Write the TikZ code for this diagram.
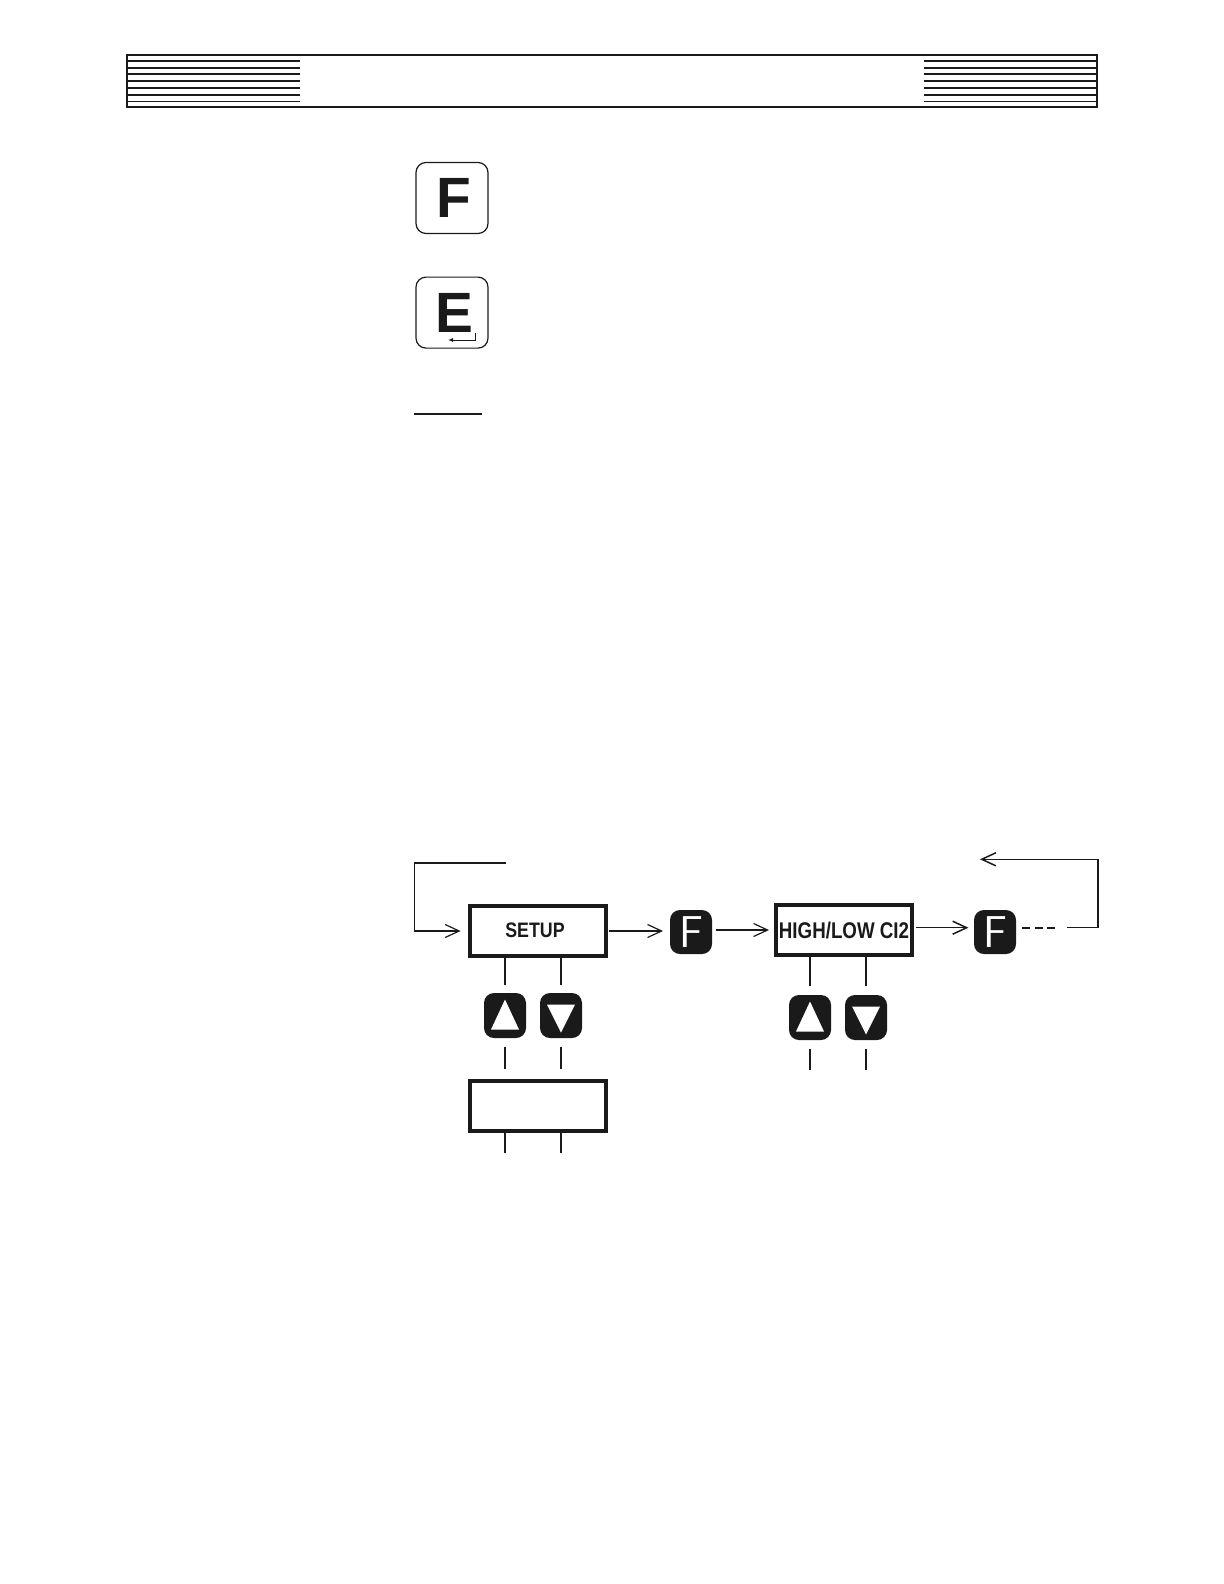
\documentclass[tikz,border=0pt]{standalone}
\usepackage{fontspec}
\setmainfont{Liberation Sans}
\usepackage{xcolor}
\usetikzlibrary{positioning,arrows.meta}
\definecolor{ink}{HTML}{1A1A1A}
\tikzset{
  capkey/.style={draw=ink,line width=.6bp,rounded corners=5bp,minimum width=36bp,minimum height=35.5bp,inner sep=0pt,outer sep=0pt,text=ink,font=\bfseries\fontsize{28.5}{30}\selectfont},
  blackkey/.style={fill=ink,rounded corners=5bp,minimum width=21bp,minimum height=22bp,inner sep=0pt,outer sep=0pt,text=white,font=\sffamily\fontsize{22.4}{24}\selectfont},
  arrowkey/.style={fill=ink,rounded corners=5bp,minimum width=21bp,minimum height=22.5bp,inner sep=0pt,outer sep=0pt},
  dispbox/.style={draw=ink,line width=2.2bp,minimum width=68bp,minimum height=25bp,inner sep=0pt,outer sep=0pt,text=ink},
  flow/.style={draw=ink,line width=.6bp,-{Straight Barb[length=7bp,width=6.5bp]}},
  stubthick/.style={draw=ink,line width=1bp},
  stubthin/.style={draw=ink,line width=.55bp},
  rule/.style={draw=ink,line width=.8bp}
}
\begin{document}
\begin{tikzpicture}[x=.5bp,y=-.5bp]
\useasboundingbox (0,0) rectangle (1224,1584);
% page header
\node[draw=ink,line width=1bp,minimum width=485bp,minimum height=25.75bp,inner sep=0pt,outer sep=0pt] (header) at (612,80.75) {};
\foreach \y/\w in {60.7/.9,67.7/.9,74/.9,80.7/.9,87.7/.9,94.7/.9,101.3/.5} {
  \coordinate (stripeL) at (300,\y);
  \coordinate (stripeR) at (924,\y);
  \draw[draw=ink,line width=\w bp] (header.west |- stripeL) -- (stripeL);
  \draw[draw=ink,line width=\w bp] (stripeR) -- (header.east |- stripeR);
}
% keys
\node[capkey] (keyF) at (452,198) {\hspace*{2bp}\raisebox{-.5bp}{F}};
\node[capkey,below=21.8bp of keyF] (keyE) {\hspace*{2bp}\raisebox{-.5bp}{E}};
\coordinate (enterT) at (475,333);
\coordinate (enterH) at (448,340);
\draw[draw=ink,line width=.5bp,-{Latex[length=2.5bp,width=2bp]}] (enterT) |- (enterH);
\coordinate (underA) at (414,413.7);
\coordinate (underB) at (482,413.7);
\draw[rule] (underA) -- (underB);
% flow chart
\node[dispbox] (setup) at (538,931) {\raisebox{.5bp}{\scalebox{.85}[1]{\bfseries\fontsize{10.5}{12}\selectfont SETUP}}\hspace*{3bp}};
\node[blackkey,right=32bp of setup,yshift=-.5bp] (fA) {F};
\node[dispbox,right=32bp of fA,yshift=1bp] (high) {\raisebox{-.8bp}{\scalebox{.825}[1]{\fontsize{11.4}{13}\selectfont\bfseries HIGH/LOW CI2}}};
\node[blackkey,right=31bp of high,yshift=-1bp] (fB) {F};
\node[dispbox,below=62.5bp of setup] (value) {};
\node[arrowkey,below=18.5bp of setup,xshift=-16.5bp] (upS) {};
\node[arrowkey,right=7bp of upS] (downS) {};
\node[arrowkey,below=20bp of high,xshift=-17bp] (upH) {};
\node[arrowkey,right=7bp of upH] (downH) {};
\foreach \k in {upS,upH}
  \fill[white] (\k) ++(0,-16) -- ++(14,30) -- ++(-28,0) -- cycle;
\foreach \k in {downS,downH}
  \fill[white] (\k) ++(0,17) -- ++(14,-28) -- ++(-28,0) -- cycle;
% connectors
\draw[flow,shorten <=1.5bp,shorten >=3.5bp] (setup.east) -- (setup.east -| fA.west);
\draw[flow,shorten <=2bp,shorten >=3.5bp] (fA.east |- high.west) -- (high.west);
\coordinate (highOut) at (913.7,927.7);
\draw[flow,line width=.75bp,shorten <=1bp,shorten >=2.8bp] (highOut) -- (highOut -| fB.west);
\coordinate (retA) at (1066.7,927.7);
\coordinate (retB) at (1098,859.3);
\coordinate (retC) at (980,859.3);
\draw[draw=ink,line width=.9bp,dash pattern=on 4bp off 2.3bp,shorten <=3bp,shorten >=5.8bp] (retA -| fB.east) -- (retA);
\draw[flow,line width=.75bp] (retA) -| (retB) -- (retC);
\coordinate (loopA) at (506,863);
\coordinate (loopB) at (414.3,863);
\draw[rule] (loopA) -- (loopB);
\draw[flow,shorten >=4.7bp] (loopB) |- (setup.west);
\draw[stubthick,shorten >=4bp] (upS.north |- setup.south) -- (upS.north);
\draw[stubthin,shorten >=4bp] (downS.north |- setup.south) -- (downS.north);
\draw[stubthick,shorten <=4.5bp,shorten >=6bp] (upS.south) -- (upS.south |- value.north);
\draw[stubthin,shorten <=4.5bp,shorten >=6bp] (downS.south) -- (downS.south |- value.north);
\coordinate (tailS) at (505,1153);
\draw[stubthick] (upS.south |- value.south) -- (upS.south |- tailS);
\draw[stubthin] (downS.south |- value.south) -- (downS.south |- tailS);
\draw[stubthin,shorten >=4.7bp] (upH.north |- high.south) -- (upH.north);
\draw[stubthin,shorten >=4.7bp] (downH.north |- high.south) -- (downH.north);
\coordinate (tailH) at (809,1070);
\draw[stubthin,shorten <=4.5bp] (upH.south) -- (upH.south |- tailH);
\draw[stubthin,shorten <=4.5bp] (downH.south) -- (downH.south |- tailH);
\end{tikzpicture}
\end{document}
